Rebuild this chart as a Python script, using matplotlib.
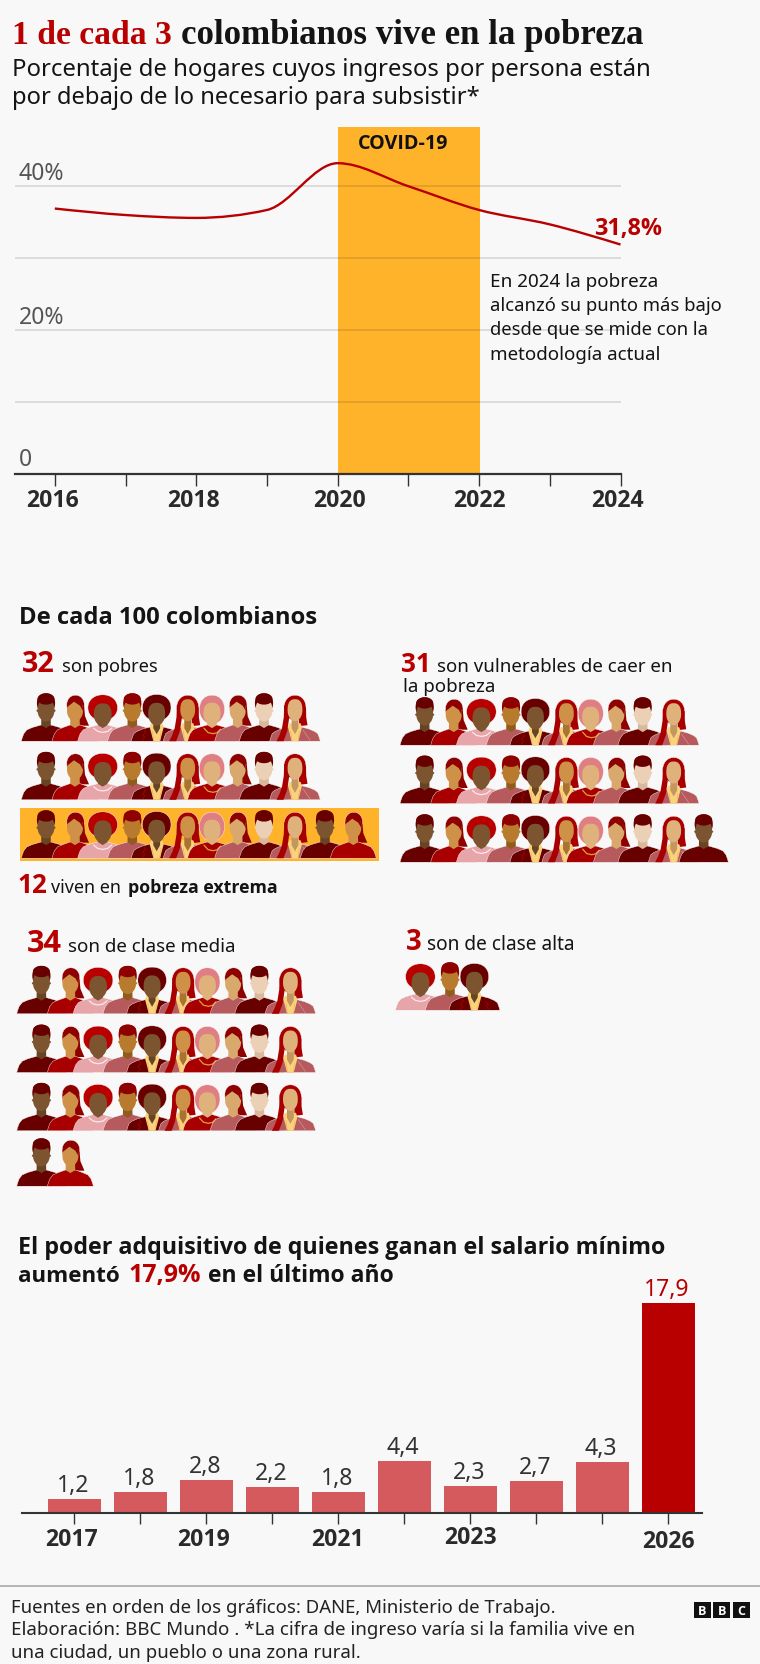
import numpy as np
import matplotlib
matplotlib.use("Agg")
import matplotlib.pyplot as plt
from matplotlib.patches import Polygon, Rectangle, PathPatch
from matplotlib.path import Path
from matplotlib.transforms import ScaledTranslation
from matplotlib.font_manager import findfont, FontProperties

# ---------- data ----------
years = [2016, 2017, 2018, 2019, 2020, 2021, 2022, 2023, 2024]
poverty = [36.8, 35.9, 35.5, 36.6, 43.1, 39.9, 36.6, 34.6, 31.8]
year_tick_labels = ["2016", "", "2018", "", "2020", "", "2022", "", "2024"]
covid_span = [2020, 2022.01]
y_ticks = [0, 10, 20, 30, 40]
y_tick_labels = ["0", "", "20%", "", "40%"]

bar_years = [2017, 2018, 2019, 2020, 2021, 2022, 2023, 2024, 2025, 2026]
bar_values = [1.2, 1.8, 2.8, 2.2, 1.8, 4.4, 2.3, 2.7, 4.3, 17.9]
bar_labels = ["1,2", "1,8", "2,8", "2,2", "1,8", "4,4", "2,3", "2,7", "4,3", "17,9"]
bar_tick_labels = ["2017", "", "2019", "", "2021", "", "2023", "", "", "2026"]

people_poor = [10, 10, 12]
people_vulnerable = [10, 10, 11]
people_middle = [10, 10, 10, 2]
people_high = [3]

# ---------- style ----------
W, H = 760, 1665
BG = "#f8f8f8"
RED = "#b80000"
LIGHT = "#d45a5d"
AMBER = "#ffb32b"
INK = "#141414"
SANS = "Noto Sans"
SERIF = "Liberation Serif"
BOLD = next(f for f in ["Open Sans", "Lato", "Roboto", "Liberation Sans"]
            if "bold" in findfont(FontProperties(family=f, weight="bold")).lower())

fig = plt.figure(figsize=(W / 100, H / 100), dpi=100, facecolor=BG)
ov = fig.add_axes([0, 0, 1, 1], zorder=5)
ov.set_xlim(0, W)
ov.set_ylim(H, 0)
ov.axis("off")
ov.patch.set_alpha(0)
renderer = fig.canvas.get_renderer()


def axpx(l, t, r, b):
    a = fig.add_axes([l / W, 1 - b / H, (r - l) / W, (b - t) / H], zorder=2)
    a.patch.set_alpha(0)
    return a


def T(x0, base, s, x1=None, px=22, weight="normal", color=INK, family=None, ha="left"):
    if family is None:
        family = BOLD if weight == "bold" else SANS
    t = ov.text(x0, base, s, fontsize=px * 0.72, fontweight=weight, color=color,
                family=family, va="baseline", ha=ha)
    if x1 is not None:
        w = t.get_window_extent(renderer).width
        t.set_fontsize(t.get_fontsize() * (x1 - x0) / w)
    return t


def offset_labels(labels, dx, dy):
    for lab, a, b in zip(labels, dx, dy):
        lab.set_transform(lab.get_transform() + ScaledTranslation(a / 100, -b / 100, fig.dpi_scale_trans))


# ---------- header ----------
T(12.5, 43.5, "1 de cada 3", 172, px=32, weight="bold", color=RED, family=SERIF)
T(181, 43.5, "colombianos vive en la pobreza", 643.5, px=32, weight="bold", family=SERIF)
T(11.5, 75.5, "Porcentaje de hogares cuyos ingresos por persona están", 649, px=23)
T(12, 103.5, "por debajo de lo necesario para subsistir*", 479, px=23)

# ---------- line chart ----------
ax = axpx(15, 128, 620.5, 474.5)
px_per_year = (620.5 - 54.8) / 8
ax.set_xlim(2016 - (54.8 - 15) / px_per_year, 2024)
ax.set_ylim(0, (474.5 - 128) / 7.2)
ax.axvspan(covid_span[0], covid_span[1], color=AMBER, lw=0, zorder=1)
for s in ["top", "left", "right"]:
    ax.spines[s].set_visible(False)
ax.spines["bottom"].set_color("#333333")
ax.spines["bottom"].set_linewidth(1.6)
ax.set_yticks(y_ticks)
ax.set_yticklabels(y_tick_labels, fontsize=23 * 0.72, color="#555555", family=SANS, ha="left", va="bottom")
ax.tick_params(axis="y", length=0, pad=-2, direction="in")
offset_labels(ax.get_yticklabels(), [1, 1, 1, 1, 1], [-2, 0, 0, 0, 0])
for v in y_ticks[1:]:
    ax.axhline(v, color="#000000", alpha=0.13, lw=1.2, zorder=2)
ax.set_xticks(years)
ax.set_xticklabels(year_tick_labels, fontsize=23 * 0.72, fontweight="bold", color="#2a2a2a", family=BOLD)
ax.tick_params(axis="x", length=8.5, width=1, color="#333333", pad=2)
offset_labels(ax.get_xticklabels(), [-2.4, 0, -3, 0, 1.4, 0, 0, 0, -3], [0] * 9)

# monotone cubic rendering of the yearly series
xs = np.array(years, float)
ys = np.array(poverty, float)
h = np.diff(xs)
sl = np.diff(ys) / h
tg = np.zeros_like(ys)
for i in range(1, len(xs) - 1):
    p = (sl[i - 1] * h[i] + sl[i] * h[i - 1]) / (h[i] + h[i - 1])
    tg[i] = (np.sign(sl[i - 1]) + np.sign(sl[i])) * min(abs(sl[i - 1]), abs(sl[i]), 0.5 * abs(p))
tg[0] = (3 * sl[0] - tg[1]) / 2
tg[-1] = (3 * sl[-1] - tg[-2]) / 2
verts = [(xs[0], ys[0])]
codes = [Path.MOVETO]
for i in range(len(xs) - 1):
    verts += [(xs[i] + h[i] / 3, ys[i] + tg[i] * h[i] / 3),
              (xs[i + 1] - h[i] / 3, ys[i + 1] - tg[i + 1] * h[i] / 3),
              (xs[i + 1], ys[i + 1])]
    codes += [Path.CURVE4] * 3
ax.add_patch(PathPatch(Path(verts, codes), fc="none", ec=RED, lw=1.7, zorder=3, capstyle="butt"))

T(358, 149, "COVID-19", 448.5, px=20, weight="bold", color="#111111")
T(594, 235.5, "31,8%", 662, px=22, weight="bold", color=RED)
T(490, 286.7, "En 2024 la pobreza", 658, px=18)
T(490, 311, "alcanzó su punto más bajo", 720, px=18)
T(490, 335, "desde que se mide con la", 707.5, px=18)
T(490, 360, "metodología actual", 660, px=18)

# ---------- people ----------
D1 = "#690000"; D2 = "#8f0000"; R1 = "#a80000"; R2 = "#b80000"
ROSE = "#b65a5e"; PINK = "#e8a5a9"; SALMON = "#e07f83"; YEL = "#fbd27c"
S1 = "#7c5530"; S2 = "#cf9148"; S3 = "#b87a2c"; S4 = "#dfb27c"; S5 = "#ecd0b6"; S6 = "#d8a86c"

# kind, offset of the head from the row start, half width of body, body, skin, hair
people = [
    ("man", 24.7, 24.7, D1, S1, D1),
    ("tail", 53.7, 23.0, R1, S2, D2),
    ("bob", 81.4, 25.0, PINK, S1, R2),
    ("man", 111.0, 24.7, ROSE, S3, D2),
    ("suit", 135.4, 25.5, D1, S1, D1),
    ("long", 166.4, 24.5, ROSE, S2, R1),
    ("neck", 190.7, 24.5, R1, S4, SALMON),
    ("tail", 216.4, 23.0, ROSE, S6, D2),
    ("man", 242.7, 24.7, D1, S5, D1),
    ("long", 273.7, 25.3, ROSE, S4, R1),
    ("man", 303.7, 24.7, D1, S1, D1),
    ("tail", 332.0, 23.0, R1, S2, D2),
]
SHADE = {S1: "#664424", S2: "#a97332", S3: "#8f5c1e", S4: "#c49660", S5: "#d9b89c", S6: "#b98a52"}


def blob(cv, a, b, n=2.6, taper=0.0, cu=0.0):
    """Outline of a head or hair shape, as (u, v) points."""
    t = np.linspace(0, 2 * np.pi, 48, endpoint=False)
    c, s = np.cos(t), np.sin(t)
    uu = a * np.sign(c) * np.abs(c) ** (2 / n)
    vv = b * np.sign(s) * np.abs(s) ** (2 / n)
    low = np.where(vv < 0, (vv / b) ** 2, 0)
    return np.column_stack([cu + uu * (1 - taper * low), cv + vv])


def person(left, bottom, p, z):
    kind, off, hw, body, skin, hair = p
    cx = left + off
    to_px = lambda pts: [(cx + u, bottom - v) for u, v in pts]
    halo = dict(ec=BG, lw=0.3)

    def poly(pts, fc, **kw):
        ov.add_patch(Polygon(to_px(pts), closed=True, fc=fc, zorder=z, **(kw or dict(ec="none"))))

    def curve(pts, col, lw):
        q = to_px(pts)
        ov.plot([a for a, _ in q], [b for _, b in q], color=col, lw=lw, zorder=z, solid_capstyle="round")

    # hair behind the head
    if kind == "bob":
        poly(blob(33.5, 14.8, 12.9, 2.1, 0.0), hair, **halo)
    elif kind == "neck":
        poly(blob(31.5, 12.6, 14.5, 2.2, 0.15), hair, **halo)
    elif kind == "suit":
        poly(blob(33.5, 14.3, 13.2, 2.2, 0.05), hair, **halo)
    elif kind == "tail":
        poly(blob(36, 8.8, 10, 2.1, 0, 0.5), hair, **halo)
        poly([(3, 44), (9.2, 34), (10, 25), (14, 15.5), (3, 15.5)], hair)
    elif kind == "long":
        poly(blob(33.5, 11, 12.5, 2.1), hair, **halo)
        poly([(11, 34), (11.2, 24), (12.5, 16), (4, 15), (4, 34)], hair)

    # body
    top = 14.6 if kind in ("man", "tail", "bob", "neck") else 13.0
    shoulder = [(-hw, 0), (-hw + 1.0, 3.5), (-hw + 2.5, 7.5), (-hw + 5.5, top - 3.3), (-hw + 11, top - 0.9), (-5, top + 1.6),
                (5, top + 1.6), (hw - 11, top - 0.9), (hw - 5.5, top - 3.3), (hw - 2.5, 7.5), (hw - 1.0, 3.5), (hw, 0)]
    poly(shoulder, body, **halo)

    # neck and accents
    if kind in ("suit", "long"):
        poly([(-3.3, 0), (-7, 14), (-5.5, 18), (5.5, 18), (7, 14), (3.3, 0)], YEL)
        poly([(-3.4, 24), (3.4, 24), (3.4, 13), (0, 7), (-3.4, 13)], SHADE[skin])
        curve([(-3, 0), (-4.4, 10)], "#e9b560", 0.5)
        curve([(3, 0), (4.4, 10)], "#e9b560", 0.5)
        if kind == "suit":
            curve([(-14, 1), (-12, 4), (-14, 6), (-11, 9), (-12.5, 11)], R1, 0.6)
            curve([(14, 1), (12, 4), (14, 6), (11, 9)], R1, 0.6)
        else:
            curve([(15, 1), (8, 11)], "#d98f92", 0.5)
            # the long lock falls over the jacket down to the baseline
            poly([(-10.8, 36), (-11.2, 24), (-13, 13), (-15.5, 6), (-18.5, 0), (-11.5, 0), (-7.8, 10), (-6, 22), (-6, 36)], hair)
    else:
        poly([(-4.6, 26), (4.6, 26), (4.8, top + 1.5), (0, top - 1.5), (-4.8, top + 1.5)],
             SHADE[skin] if kind == "man" else skin)

    # face
    cv, a, b = {"man": (30.7, 8.4, 11), "tail": (30.5, 8.0, 10.8), "bob": (26.4, 8.9, 11.4),
                "suit": (27, 8.5, 11.4), "long": (31, 7.4, 11), "neck": (27.5, 8.5, 11)}[kind]
    if kind == "man":
        poly(blob(38, 9.1, 10, 2.2), hair)
        poly(blob(30.5, 9.6, 2.6, 2.0), skin)
    poly(blob(cv, a, b, 2.5, 0.28), skin)
    if kind == "man":
        poly(blob(42.2, 8.5, 5.6, 2.1), hair)
    if kind == "tail":
        poly([(-8, 34), (-6.5, 40), (0, 43), (7, 40), (8.2, 30), (5, 35.5), (-1, 39.5)], hair)
    if kind == "bob":
        curve([(-9, 13), (-5, 9.8), (0, 8.8), (5, 9.8), (9, 13)], "#fbe9e9", 0.9)
    if kind == "neck":
        curve([(-8, 13), (-4, 8.6), (1, 7.5), (5, 8.4), (8.5, 12)], "#e0a03c", 0.9)


def row(left, bottom, start, n, base_z=10):
    for i in range(n):
        person(left, bottom + 0.5, people[start + i], base_z + i)


T(19, 624, "De cada 100 colombianos", 316, px=23, weight="bold")

# group 1: poor
T(22, 671.7, "32", 55, px=30, weight="bold", color=RED)
T(62, 671.7, "son pobres", 158, px=19)
ov.add_patch(Rectangle((20, 809.3), 359, 52.4, fc=AMBER, ec="none", zorder=1))
for b, n in zip([741.7, 800.3, 858.7], people_poor):
    row(21.3, b, 0, n)
T(17, 893.5, "12", 47, px=30, weight="bold", color=RED)
T(51, 893.5, "viven en", 121, px=19)
T(128, 893.5, "pobreza extrema", 278, px=19, weight="bold")

# group 2: vulnerable
T(400.7, 672.3, "31", 430.5, px=30, weight="bold", color=RED)
T(436.7, 672.3, "son vulnerables de caer en", 672, px=19)
T(402.7, 691.7, "la pobreza", 495, px=19)
for b, n in zip([745.7, 804, 862.7], people_vulnerable):
    row(400, b, 0, n)

# group 3: middle
T(26.7, 952, "34", 61.7, px=30, weight="bold", color=RED)
T(68, 952, "son de clase media", 235.7, px=19)
for b, n in zip([1014.3, 1073, 1131.3, 1186.7], people_middle):
    row(16.7, b, 0, n)

# group 4: high
T(406, 950, "3", 421.7, px=30, weight="bold", color=RED)
T(427, 950, "son de clase alta", 574.3, px=19)
row(339, 1010.7, 2, people_high[0])

# ---------- bar chart ----------
T(18.4, 1254.3, "El poder adquisitivo de quienes ganan el salario mínimo", 663, px=23, weight="bold")
T(18.4, 1282.3, "aumentó", 120, px=23, weight="bold")
T(128, 1282.3, "17,9%", 201, px=23, weight="bold", color=RED)
T(207.5, 1282.3, "en el último año", 393, px=23, weight="bold")

bx = axpx(21.8, 1290, 702.4, 1514)
step = 66.02
bx.set_xlim((21.8 - 74.2) / step, (702.4 - 74.2) / step)
bx.set_ylim(0, 224 / 11.75)
positions = np.arange(len(bar_years))
colors = [LIGHT] * (len(bar_years) - 1) + [RED]
bars = bx.bar(positions, bar_values, width=0.807, color=colors, lw=0, zorder=2)
for s in ["top", "left", "right"]:
    bx.spines[s].set_visible(False)
bx.spines["bottom"].set_color("#333333")
bx.spines["bottom"].set_linewidth(1.5)
bx.set_yticks([])
bx.set_xticks(positions)
bx.set_xticklabels(bar_tick_labels, fontsize=23 * 0.72, fontweight="bold", color="#2a2a2a", family=BOLD)
bx.tick_params(axis="x", length=8, width=1, color="#333333", pad=2)
offset_labels(bx.get_xticklabels(), [-2.5, 0, -2.5, 0, -1, 0, 0, 0, 0, 0], [0, 0, 0, 0, 0, 0, -2, 0, 0, 2])
for x, v, lab, c in zip(positions, bar_values, bar_labels, colors):
    bx.annotate(lab, xy=(x, v), xytext=(-1.5, 8), textcoords="offset pixels", ha="center", va="baseline",
                fontsize=23 * 0.72, color=RED if c == RED else "#333333", family=SANS, annotation_clip=False)

# ---------- footer ----------
ov.plot([0, W], [1587.3, 1587.3], color="#a8a8a8", lw=1.2, zorder=3)
T(10.7, 1612.7, "Fuentes en orden de los gráficos: DANE, Ministerio de Trabajo.", 554.5, px=19, color="#222222")
T(10.7, 1635.3, "Elaboración: BBC Mundo . *La cifra de ingreso varía si la familia vive en", 634, px=19, color="#222222")
T(10.7, 1658.3, "una ciudad, un pueblo o una zona rural.", 358.7, px=19, color="#222222")
for x0, ch in zip([693.5, 713.3, 733], "BBC"):
    ov.add_patch(Rectangle((x0, 1602.7), 17, 16.5, fc="#111111", ec="none", zorder=3))
    ov.text(x0 + 8.5, 1611.2, ch, color="white", fontsize=9, fontweight="bold", family=BOLD,
            ha="center", va="center", zorder=4)

fig.savefig("out.png", dpi=100, facecolor=BG)
